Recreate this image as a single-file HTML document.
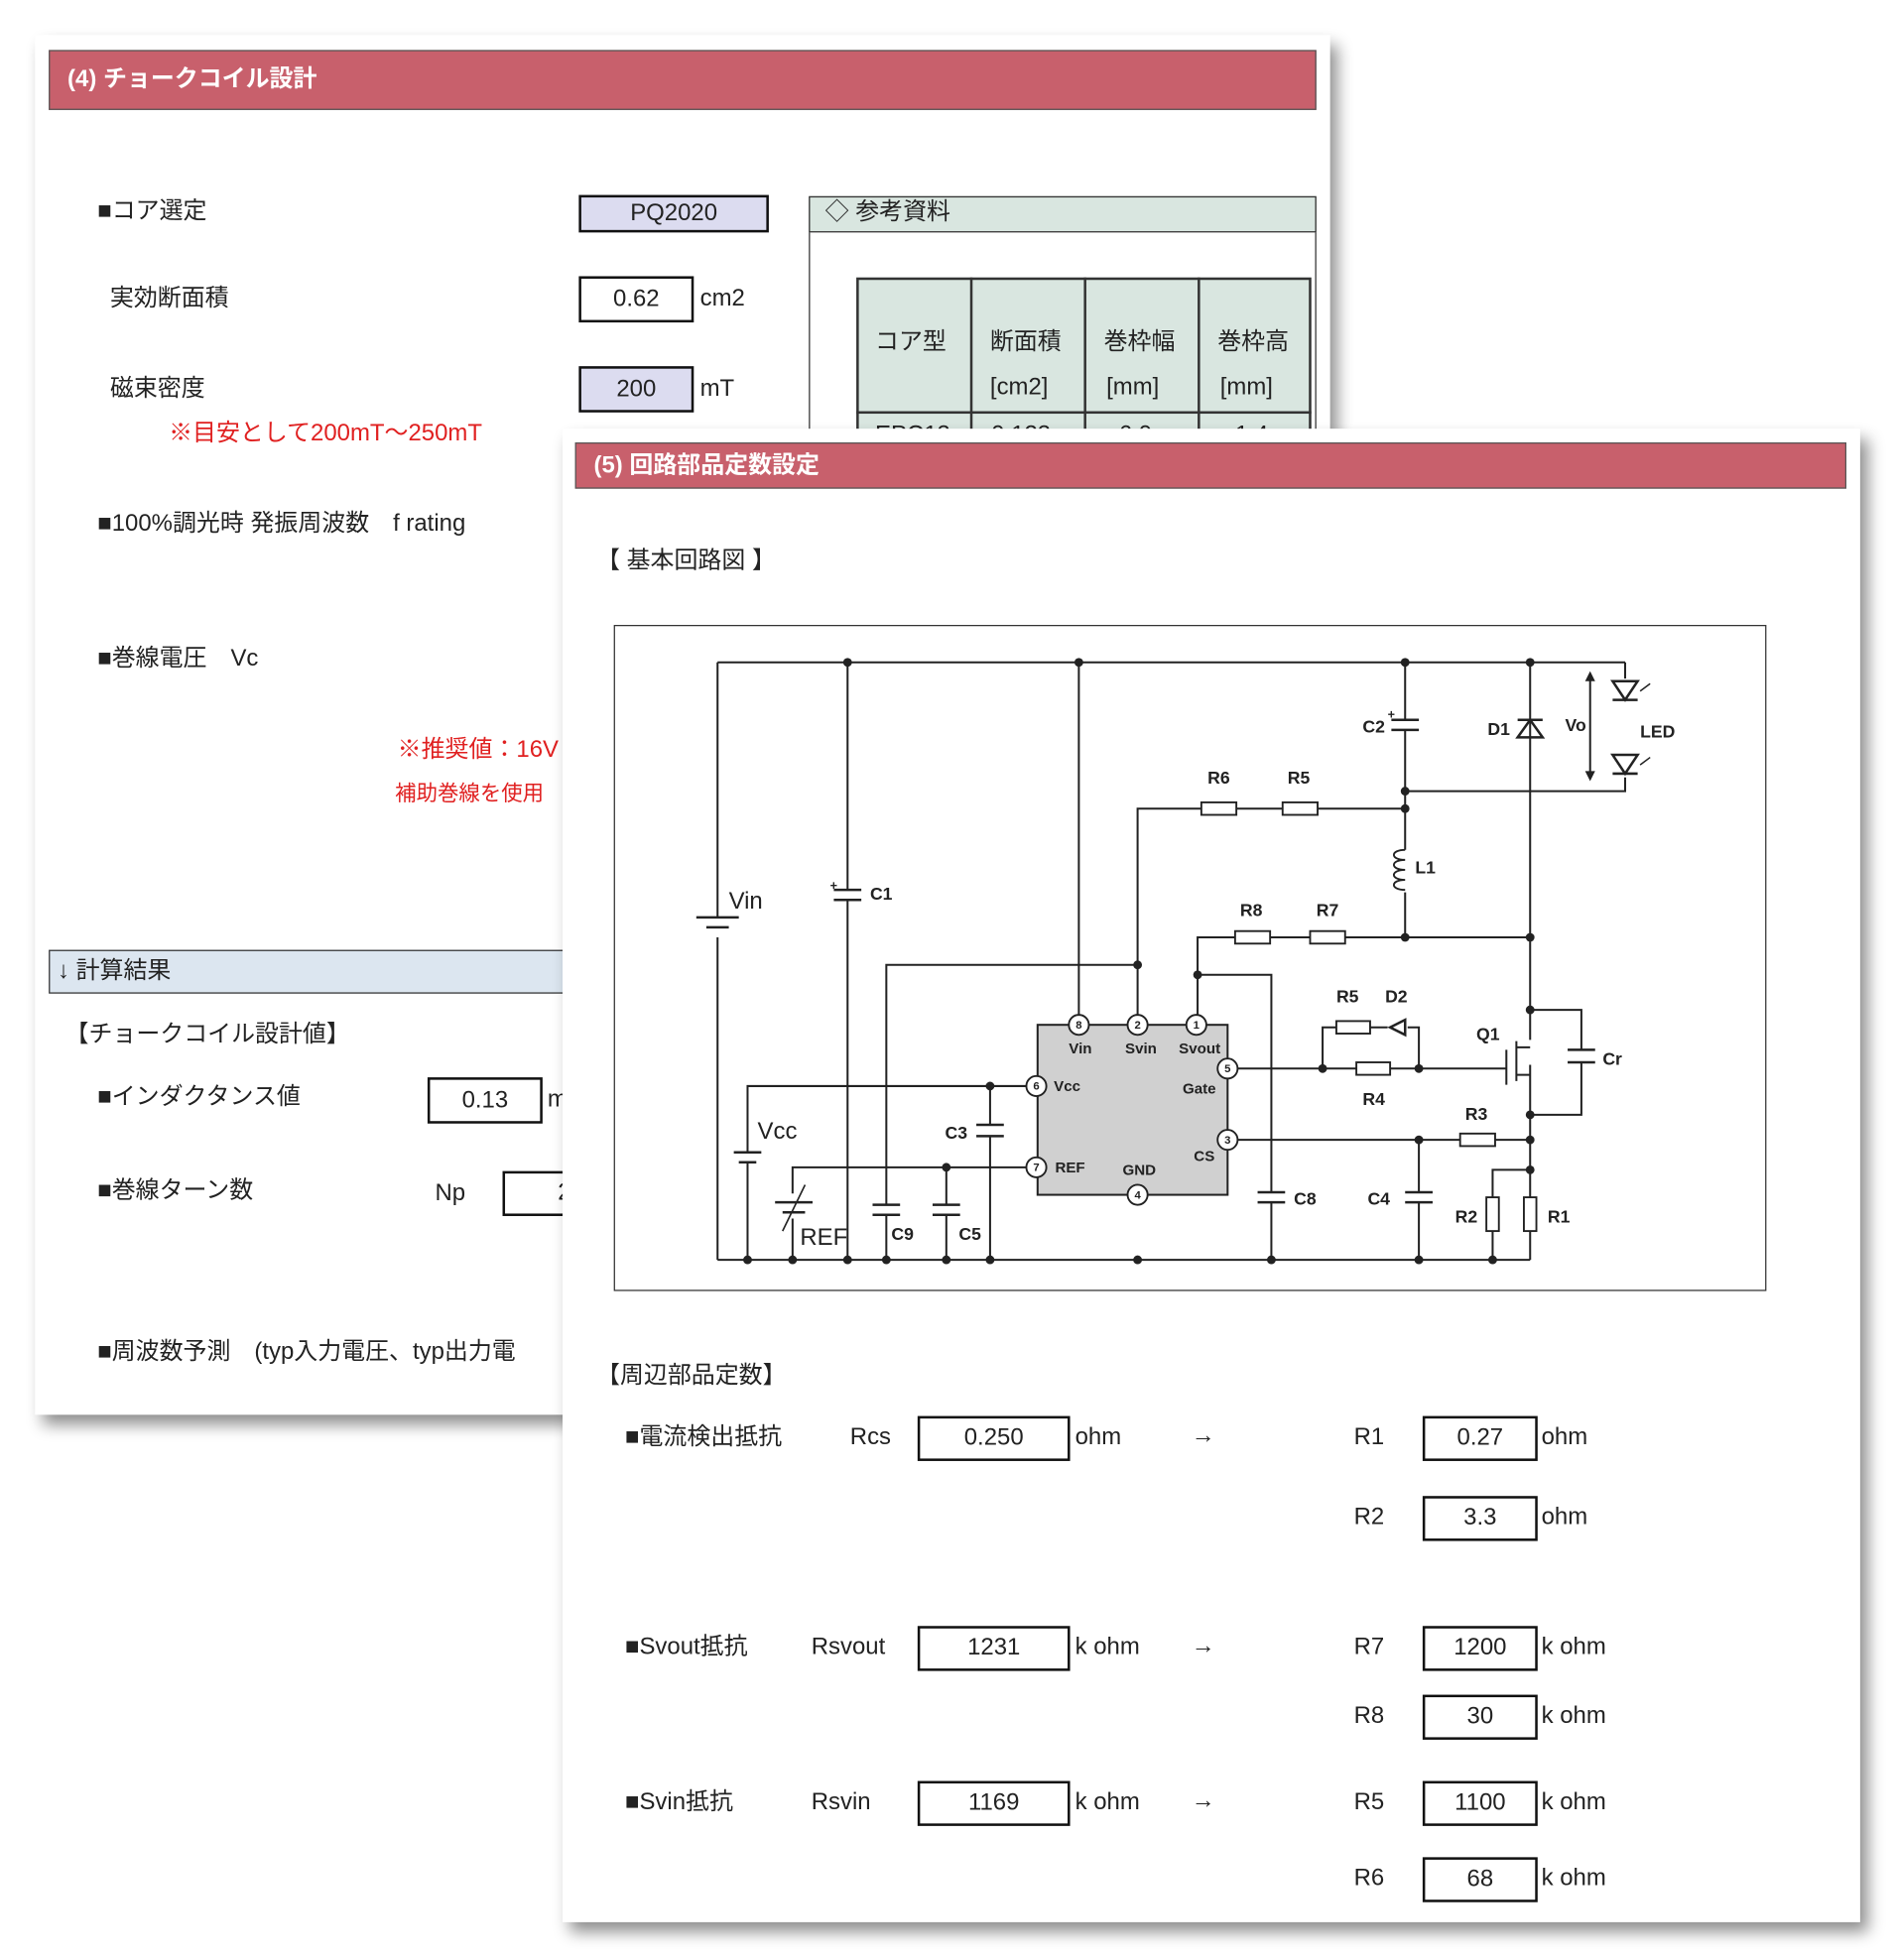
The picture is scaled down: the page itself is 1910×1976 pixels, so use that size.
<!DOCTYPE html>
<html><head><meta charset="utf-8"><style>
html,body{margin:0;padding:0;background:#fff;}
body{width:1910px;height:1976px;overflow:hidden;position:relative;}
#w{position:absolute;left:0;top:0;width:1516px;height:1568px;transform:scale(1.26);transform-origin:0 0;font-family:"Liberation Sans","Noto Sans CJK JP",sans-serif;color:#222;}
.p{position:absolute;background:#fff;box-shadow:6px 8px 12px rgba(0,0,0,.45);}
.hd{position:absolute;background:#c8606c;border:1px solid #555;color:#fff;font-weight:bold;font-size:19px;box-sizing:border-box;padding-left:14px;}
.t{position:absolute;font-size:19px;white-space:nowrap;line-height:1;transform:translateY(-50%);}
.b{position:absolute;border:2px solid #111;box-sizing:border-box;font-size:19px;text-align:center;background:#fff;}
.r{color:#e02020;}
</style></head><body><div id="w">

<div class="p" style="left:28px;top:28px;width:1036px;height:1104px;">
</div>
<div class="hd" style="left:39px;top:40px;width:1014px;height:48px;line-height:46px;">(4) チョークコイル設計</div>
<div class="t" style="left:78px;top:169px;">■コア選定</div>
<div class="b" style="left:463px;top:156px;width:152px;height:30px;line-height:26px;background:#dcdcf0;">PQ2020</div>
<div class="t" style="left:88px;top:239px;">実効断面積</div>
<div class="b" style="left:463px;top:221px;width:92px;height:37px;line-height:33px;">0.62</div>
<div class="t" style="left:560px;top:239px;">cm2</div>
<div class="t" style="left:88px;top:311px;">磁束密度</div>
<div class="b" style="left:463px;top:293px;width:92px;height:37px;line-height:33px;background:#dcdcf0;">200</div>
<div class="t" style="left:560px;top:311px;">mT</div>
<div class="t r" style="left:135px;top:347px;">※目安として200mT～250mT</div>
<div class="t" style="left:78px;top:419px;">■100%調光時 発振周波数　f rating</div>
<div class="t" style="left:78px;top:527px;">■巻線電圧　Vc</div>
<div class="t r" style="left:318px;top:600px;">※推奨値：16V</div>
<div class="t r" style="left:316px;top:635px;font-size:17px;">補助巻線を使用</div>
<div style="position:absolute;left:39px;top:760px;width:420px;height:35px;background:#dce6f0;border:1px solid #333;box-sizing:border-box;"></div>
<div class="t" style="left:46px;top:777px;">↓ 計算結果</div>
<div class="t" style="left:52px;top:828px;">【チョークコイル設計値】</div>
<div class="t" style="left:78px;top:878px;">■インダクタンス値</div>
<div class="b" style="left:342px;top:862px;width:92px;height:37px;line-height:33px;">0.13</div>
<div class="t" style="left:438px;top:880px;">m</div>
<div class="t" style="left:78px;top:953px;">■巻線ターン数</div>
<div class="t" style="left:348px;top:955px;">Np</div>
<div class="b" style="left:402px;top:937px;width:80px;height:36px;line-height:32px;">　2</div>
<div class="t" style="left:78px;top:1082px;">■周波数予測　(typ入力電圧、typ出力電</div>

<div style="position:absolute;left:647px;top:157px;width:406px;height:200px;border:1px solid #333;box-sizing:border-box;"></div>
<div style="position:absolute;left:647px;top:157px;width:406px;height:29px;border:1px solid #333;background:#d9e6e0;box-sizing:border-box;"></div>
<div class="t" style="left:660px;top:170px;">◇ 参考資料</div>
<div style="position:absolute;left:685px;top:222px;width:364px;height:140px;background:#d9e6e0;border:2px solid #333;box-sizing:border-box;"></div>
<div style="position:absolute;left:685px;top:329px;width:364px;height:2px;background:#333;"></div>
<div style="position:absolute;left:776px;top:222px;width:2px;height:140px;background:#333;"></div>
<div style="position:absolute;left:867px;top:222px;width:2px;height:140px;background:#333;"></div>
<div style="position:absolute;left:958px;top:222px;width:2px;height:140px;background:#333;"></div>
<div class="t" style="left:700px;top:274px;">コア型</div>
<div class="t" style="left:792px;top:274px;">断面積</div>
<div class="t" style="left:792px;top:310px;">[cm2]</div>
<div class="t" style="left:883px;top:274px;">巻枠幅</div>
<div class="t" style="left:885px;top:310px;">[mm]</div>
<div class="t" style="left:974px;top:274px;">巻枠高</div>
<div class="t" style="left:976px;top:310px;">[mm]</div>
<div class="t" style="left:700px;top:348px;">EPC13</div>
<div class="t" style="left:793px;top:348px;">0.123</div>
<div class="t" style="left:895px;top:348px;">6.0</div>
<div class="t" style="left:988px;top:348px;">1.4</div>

<div class="p" style="left:450px;top:343px;width:1038px;height:1195px;"></div>
<div class="hd" style="left:460px;top:354px;width:1017px;height:37px;line-height:35px;">(5) 回路部品定数設定</div>
<div class="t" style="left:477px;top:449px;">【 基本回路図 】</div>
<div style="position:absolute;left:491px;top:500px;width:922px;height:533px;border:1.5px solid #333;box-sizing:border-box;"></div>

<svg style="position:absolute;left:0;top:0;" width="1516" height="1568" font-family="Liberation Sans Narrow, Liberation Sans, sans-serif" font-size="14" font-weight="bold">
<g stroke="#222" stroke-width="1.6" fill="none">
<rect x="830" y="820" width="152" height="136" fill="#d0d0d0"/>
<path d="M574 530H1300M574 1008H1224M574 530V734M574 750V1008"/>
<path d="M678 530V712M678 720V1008"/>
<path d="M863 530V812"/>
<path d="M910 812V647H961M989 647H1026M1054 647H1124"/>
<path d="M910 772H709V964M709 972V1008"/>
<path d="M1124 530V576M1124 584V680M1124 714V750"/>
<path d="M1124 633H1300V622M1300 530V543"/>
<path d="M1224 530V750V808H1265V840M1265 850V892H1224"/>
<path d="M1224 808V832M1224 852V1008"/>
<path d="M958 812V750H988M1016 750H1048M1076 750H1224"/>
<path d="M958 780H1017V954M1017 962V1008"/>
<path d="M990 855H1085M1112 855H1205M1058 855V822H1069M1096 822H1110M1126 822H1135V855"/>
<path d="M1205 840V868M1213 833V865M1213 838H1224M1213 860H1224"/>
<path d="M990 912H1168M1196 912H1224M1135 912V954M1135 962V1008"/>
<path d="M1224 936H1194V958M1194 985V1008M1224 958V958"/>
<path d="M821 869H598V922M598 930V1008M792 869V900M792 909V1008"/>
<path d="M821 934H634V955M634 975V1008M757 934V964M757 972V1008"/>
<path d="M1272 540V622"/>
</g>
<g fill="#fff" stroke="#222" stroke-width="1.5">
<rect x="961" y="642" width="28" height="10"/><rect x="1026" y="642" width="28" height="10"/>
<rect x="988" y="745" width="28" height="10"/><rect x="1048" y="745" width="28" height="10"/>
<rect x="1069" y="817" width="27" height="10"/><rect x="1085" y="850" width="27" height="10"/>
<rect x="1168" y="907" width="28" height="10"/>
<rect x="1189" y="958" width="10" height="27"/><rect x="1219" y="958" width="10" height="27"/>
</g>
<g stroke="#222" stroke-width="2">
<path d="M557 734H591M565 742H583M667 712H689M667 720H689M1113 576H1135M1113 584H1135M698 964H720M698 972H720M746 964H768M746 972H768M781 900H803M781 909H803M1006 954H1028M1006 962H1028M1124 954H1146M1124 962H1146M1254 840H1276M1254 850H1276M587 922H609M591 930H605M620 962H650M626 970H644"/>
<path d="M1214 576H1234M1214 590H1234L1224 576Z" fill="none"/>
<path d="M1290 545H1310L1300 560ZM1290 560H1310M1290 604H1310L1300 619ZM1290 619H1310" fill="none"/>
<path d="M1112 822L1124 816V828ZM1124 816V828" fill="none"/>
<path d="M1124 680c-12 0-12 8 0 8c-12 0-12 8 0 8c-12 0-12 8 0 8c-12 0-12 8 0 8" fill="none" stroke-width="1.5"/>
<path d="M626 985L644 948" fill="none" stroke-width="1.3"/>
<path d="M1312 553l8-6M1312 612l8-6" stroke-width="1.2"/>
</g>
<path d="M1272 537l-4 8h8zM1272 625l-4-8h8z" fill="#222"/>
<g fill="#222">
<circle cx="678" cy="530" r="3.5"/><circle cx="863" cy="530" r="3.5"/><circle cx="1124" cy="530" r="3.5"/><circle cx="1224" cy="530" r="3.5"/>
<circle cx="1124" cy="633" r="3.5"/><circle cx="1124" cy="647" r="3.5"/><circle cx="1124" cy="750" r="3.5"/><circle cx="1224" cy="750" r="3.5"/>
<circle cx="910" cy="772" r="3.5"/><circle cx="958" cy="780" r="3.5"/><circle cx="1224" cy="808" r="3.5"/><circle cx="1224" cy="892" r="3.5"/>
<circle cx="1058" cy="855" r="3.5"/><circle cx="1135" cy="855" r="3.5"/><circle cx="1135" cy="912" r="3.5"/><circle cx="1224" cy="912" r="3.5"/><circle cx="1224" cy="936" r="3.5"/>
<circle cx="792" cy="869" r="3.5"/><circle cx="757" cy="934" r="3.5"/>
<circle cx="598" cy="1008" r="3.5"/><circle cx="634" cy="1008" r="3.5"/><circle cx="678" cy="1008" r="3.5"/><circle cx="709" cy="1008" r="3.5"/><circle cx="757" cy="1008" r="3.5"/><circle cx="792" cy="1008" r="3.5"/><circle cx="910" cy="1008" r="3.5"/><circle cx="1017" cy="1008" r="3.5"/><circle cx="1135" cy="1008" r="3.5"/><circle cx="1194" cy="1008" r="3.5"/>
</g>
<g fill="#fff" stroke="#222" stroke-width="1.5">
<circle cx="863" cy="820" r="8"/><circle cx="910" cy="820" r="8"/><circle cx="957" cy="820" r="8"/><circle cx="982" cy="855" r="8"/><circle cx="982" cy="912" r="8"/><circle cx="829" cy="869" r="8"/><circle cx="829" cy="934" r="8"/><circle cx="910" cy="956" r="8"/>
</g>
<g fill="#222" font-size="9" text-anchor="middle">
<text x="863" y="823">8</text><text x="910" y="823">2</text><text x="957" y="823">1</text><text x="982" y="858">5</text><text x="982" y="915">3</text><text x="829" y="872">6</text><text x="829" y="937">7</text><text x="910" y="959">4</text>
</g>
<g fill="#222" font-size="12">
<text x="855" y="843">Vin</text><text x="900" y="843">Svin</text><text x="943" y="843">Svout</text><text x="946" y="875">Gate</text><text x="955" y="929">CS</text><text x="843" y="873">Vcc</text><text x="844" y="938">REF</text><text x="898" y="940">GND</text>
</g>
<g fill="#222">
<text x="583" y="727" font-size="19" font-weight="normal">Vin</text>
<text x="696" y="720">C1</text>
<text x="1090" y="586">C2</text><text x="1110" y="575" font-size="10">+</text><text x="664" y="712" font-size="10">+</text>
<text x="1190" y="588">D1</text><text x="1252" y="585">Vo</text><text x="1312" y="590">LED</text>
<text x="966" y="627">R6</text><text x="1030" y="627">R5</text>
<text x="1132" y="699">L1</text>
<text x="992" y="733">R8</text><text x="1053" y="733">R7</text>
<text x="1069" y="802">R5</text><text x="1108" y="802">D2</text>
<text x="1181" y="832">Q1</text><text x="1282" y="852">Cr</text>
<text x="1090" y="884">R4</text><text x="1172" y="896">R3</text>
<text x="606" y="911" font-size="19" font-weight="normal">Vcc</text>
<text x="756" y="911">C3</text>
<text x="640" y="996" font-size="19" font-weight="normal">REF</text>
<text x="713" y="992">C9</text><text x="767" y="992">C5</text>
<text x="1035" y="964">C8</text><text x="1094" y="964">C4</text>
<text x="1164" y="978">R2</text><text x="1238" y="978">R1</text>
</g>
</svg>

<div class="t" style="left:477px;top:1101px;">【周辺部品定数】</div>
<div class="t" style="left:500px;top:1150px;">■電流検出抵抗</div>
<div class="t" style="left:680px;top:1150px;">Rcs</div>
<div class="b" style="left:734px;top:1133px;width:122px;height:36px;line-height:32px;">0.250</div>
<div class="t" style="left:860px;top:1150px;">ohm</div>
<div class="t" style="left:953px;top:1149px;">→</div>
<div class="t" style="left:1083px;top:1150px;">R1</div>
<div class="b" style="left:1138px;top:1133px;width:92px;height:36px;line-height:32px;">0.27</div>
<div class="t" style="left:1233px;top:1150px;">ohm</div>
<div class="t" style="left:1083px;top:1214px;">R2</div>
<div class="b" style="left:1138px;top:1197px;width:92px;height:36px;line-height:32px;">3.3</div>
<div class="t" style="left:1233px;top:1214px;">ohm</div>

<div class="t" style="left:500px;top:1318px;">■Svout抵抗</div>
<div class="t" style="left:649px;top:1318px;">Rsvout</div>
<div class="b" style="left:734px;top:1301px;width:122px;height:36px;line-height:32px;">1231</div>
<div class="t" style="left:860px;top:1318px;">k ohm</div>
<div class="t" style="left:953px;top:1317px;">→</div>
<div class="t" style="left:1083px;top:1318px;">R7</div>
<div class="b" style="left:1138px;top:1301px;width:92px;height:36px;line-height:32px;">1200</div>
<div class="t" style="left:1233px;top:1318px;">k ohm</div>
<div class="t" style="left:1083px;top:1373px;">R8</div>
<div class="b" style="left:1138px;top:1356px;width:92px;height:36px;line-height:32px;">30</div>
<div class="t" style="left:1233px;top:1373px;">k ohm</div>

<div class="t" style="left:500px;top:1442px;">■Svin抵抗</div>
<div class="t" style="left:649px;top:1442px;">Rsvin</div>
<div class="b" style="left:734px;top:1425px;width:122px;height:36px;line-height:32px;">1169</div>
<div class="t" style="left:860px;top:1442px;">k ohm</div>
<div class="t" style="left:953px;top:1441px;">→</div>
<div class="t" style="left:1083px;top:1442px;">R5</div>
<div class="b" style="left:1138px;top:1425px;width:92px;height:36px;line-height:32px;">1100</div>
<div class="t" style="left:1233px;top:1442px;">k ohm</div>
<div class="t" style="left:1083px;top:1503px;">R6</div>
<div class="b" style="left:1138px;top:1486px;width:92px;height:36px;line-height:32px;">68</div>
<div class="t" style="left:1233px;top:1503px;">k ohm</div>

</div></body></html>
